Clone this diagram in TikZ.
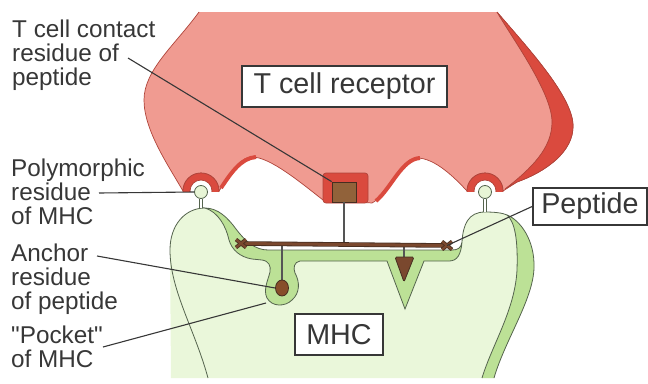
\documentclass[tikz,border=0pt]{standalone}
\usepackage{fontspec}
\setmainfont{Liberation Sans}
\usetikzlibrary{shapes.geometric}
\definecolor{tcrpink}{RGB}{240,155,145}
\definecolor{tcrred}{RGB}{218,74,62}
\definecolor{tcredge}{RGB}{175,68,58}
\definecolor{mhclight}{RGB}{234,247,218}
\definecolor{mhcgreen}{RGB}{188,225,150}
\definecolor{mhcedge}{RGB}{85,100,78}
\definecolor{pepbrown}{RGB}{122,72,46}
\definecolor{pepdark}{RGB}{70,45,32}
\definecolor{resbrown}{RGB}{145,98,58}
\definecolor{inkgray}{RGB}{55,55,55}
\definecolor{ballgreen}{RGB}{232,245,214}
\tikzset{
    % Boxed names on the molecules
    label box/.style={
        rectangle, draw=inkgray, line width=1.8pt, fill=white,
        inner sep=0pt, text=inkgray,
        font=\fontsize{28.7}{30}\selectfont
    },
    % Labels down the left margin (placed at the baseline of their last line)
    side label/.style={
        anchor=base west, align=left, inner sep=0pt, text=inkgray,
        font=\fontsize{24.3}{24}\selectfont
    },
    leader/.style={draw=inkgray, line width=1.1pt},
    % Residues
    ball/.style={
        circle, draw=mhcedge, line width=0.8pt, fill=ballgreen,
        minimum size=13pt, inner sep=0pt
    },
    residue box/.style={
        rectangle, draw=pepdark, line width=0.8pt, fill=resbrown,
        minimum width=24pt, minimum height=20pt, inner sep=0pt
    },
    stem/.style={draw=mhcedge, line width=0.6pt, double=white, double distance=2pt},
    stick/.style={draw=inkgray!85, line width=2.6pt},
    outline/.style={draw=mhcedge, line width=0.8pt}
}

\begin{document}
\begin{tikzpicture}[x=1pt, y=-1pt]
    \useasboundingbox (0,0) rectangle (648,383);

    % T cell receptor
    \path[fill=tcrpink, draw=tcredge, line width=0.7pt]
        (497,12) .. controls (525,45) and (572,95) .. (573,125)
        .. controls (574,152) and (545,172) .. (517,182) -- (503,191)
        .. controls (503,181) and (495,173) .. (485,173)
        .. controls (475,173) and (467,181) .. (467,191)
        .. controls (455,178) and (435,158) .. (417,158)
        .. controls (400,158) and (388,195) .. (372,203) -- (323,200)
        .. controls (300,182) and (270,157) .. (252,157)
        .. controls (238,157) and (228,178) .. (219,191)
        .. controls (219,181) and (211,173) .. (201,173)
        .. controls (191,173) and (183,181) .. (183,191)
        .. controls (168,165) and (144,130) .. (144,100)
        .. controls (144,70) and (175,45) .. (199,12);
    % side face of the receptor
    \path[fill=tcrred, draw=tcredge, line width=0.7pt]
        (497,12) .. controls (525,45) and (572,95) .. (573,125)
        .. controls (574,152) and (545,172) .. (517,182) -- (505,189)
        .. controls (532,168) and (552,148) .. (552,122)
        .. controls (552,92) and (510,35) .. (497,12) -- cycle;
    \draw[tcrred, line width=4pt] (221,188) .. controls (231,173) and (241,158) .. (256,157);
    \draw[tcrred, line width=4pt] (376,201) .. controls (392,187) and (402,159) .. (420,158);
    \begin{scope}
        \clip (150,150) rectangle (520,191);
        \foreach \cx in {201,485}
            \path[fill=tcrred, draw=tcredge, line width=0.7pt, even odd rule]
                (\cx,191) circle[radius=18] (\cx,191) circle[radius=11];
    \end{scope}

    % MHC
    \fill[mhclight] (171,378) -- (170,250)
        .. controls (170,225) and (185,208) .. (205,208)
        .. controls (218,208) and (228,218) .. (236,229)
        .. controls (245,241) and (255,250) .. (268,250) -- (452,250)
        .. controls (458,250) and (461,248) .. (462,242)
        .. controls (463,225) and (468,212) .. (485,212)
        .. controls (495,212) and (503,213) .. (507,215)
        .. controls (520,220) and (535,240) .. (534,268)
        .. controls (533,300) and (505,340) .. (494,378) -- cycle;
    % side face of the MHC
    \fill[mhcgreen] (507,215) .. controls (520,220) and (535,240) .. (534,268)
        .. controls (533,300) and (505,340) .. (494,378) -- (482,378)
        .. controls (492,345) and (515,310) .. (517,270)
        .. controls (518,240) and (515,222) .. (507,215) -- cycle;
    % peptide groove with its pocket
    \path[fill=mhcgreen, outline] (205,208)
        .. controls (218,208) and (228,218) .. (236,229)
        .. controls (245,241) and (255,250) .. (268,250) -- (452,250)
        .. controls (458,250) and (461,248) .. (462,242)
        .. controls (461,255) and (457,261) .. (449,261) -- (424,261)
        -- (405,309) -- (387,261) -- (300,261)
        .. controls (294,262) and (293,268) .. (295,273)
        .. controls (300,282) and (300,293) .. (292,300)
        .. controls (285,307) and (272,307) .. (267,298)
        .. controls (263,290) and (268,280) .. (270,272)
        .. controls (271,266) and (269,261) .. (262,260) -- (252,259)
        .. controls (240,257) and (232,250) .. (229,240)
        .. controls (226,226) and (218,212) .. (205,208) -- cycle;
    \draw[outline] (208,378) .. controls (195,330) and (170,290) .. (170,250)
        .. controls (170,225) and (185,208) .. (205,208);
    \draw[outline] (462,242) .. controls (463,225) and (468,212) .. (485,212)
        .. controls (495,212) and (503,213) .. (507,215)
        .. controls (520,220) and (535,240) .. (534,268)
        .. controls (533,300) and (505,340) .. (494,378);
    \draw[outline] (507,215) .. controls (515,222) and (518,240) .. (517,270)
        .. controls (515,310) and (492,345) .. (482,378);
    \coordinate (pocket) at (266,303);

    % Polymorphic residues of the MHC
    \node[ball] (poly-l) at (201,192) {};
    \node[ball] (poly-r) at (485,192) {};
    \draw[stem] (poly-l.south) -- (201,208);
    \draw[stem] (poly-r.south) -- (485,212);

    % T cell contact residue
    \fill[tcrred, draw=tcredge, line width=0.7pt, rounded corners=3pt] (323,173) rectangle (368,203);
    \node[residue box] (tcc) at (344,192) {};

    % Peptide and its side chains
    \coordinate (pep-l) at (241,243.5);
    \coordinate (pep-r) at (447,245.5);
    \coordinate (pep-tcc) at (344,244.5);
    \draw[stick] (tcc.south) -- (pep-tcc);
    \draw[stick] (282,244) -- (282,281);
    \draw[stick] (404,245) -- (404,259);
    \node[ellipse, draw=pepdark, line width=0.8pt, fill=pepbrown!90!orange,
          minimum width=13pt, minimum height=16pt, inner sep=0pt] (anchor-res) at (282,288) {};
    \path[fill=pepbrown, draw=pepdark, line width=0.8pt, rounded corners=1.5pt]
        (395,257) -- (414,257) -- (404,282) -- cycle;
    \draw[draw=pepdark, double=pepbrown, double distance=3pt, line width=0.8pt] (pep-l) -- (pep-r);
    \foreach \p in {pep-l, pep-r} {
        \draw[pepdark, line width=3.8pt] ([shift={(-5,-4)}]\p) -- ([shift={(5,4)}]\p)
            ([shift={(-5,4)}]\p) -- ([shift={(5,-4)}]\p);
        \draw[pepbrown, line width=2.2pt] ([shift={(-5,-4)}]\p) -- ([shift={(5,4)}]\p)
            ([shift={(-5,4)}]\p) -- ([shift={(5,-4)}]\p);
    }

    % Names on the molecules
    \node[label box, minimum width=205pt, minimum height=41pt] (tcr-box) at (344.5,86.5) {T cell receptor};
    \node[label box, minimum width=114pt, minimum height=37pt] (pep-box) at (590,206.5) {Peptide};
    \node[label box, minimum width=88pt, minimum height=41pt] (mhc-box) at (339,334.5) {MHC};

    % Labels on the left
    \node[side label] (tcc-lbl) at (12,85.5) {T cell contact\\residue of\\peptide};
    \node[side label] (poly-lbl) at (11,224.5) {Polymorphic\\residue\\of MHC};
    \node[side label] (anchor-lbl) at (11,309.5) {Anchor\\residue\\of peptide};
    \node[side label] (pocket-lbl) at (11,367) {\textquotedbl Pocket\textquotedbl\\of MHC};

    \coordinate (tcc-from) at (128,58);
    \coordinate (poly-from) at (99,193);
    \coordinate (anchor-from) at (97,256);
    \coordinate (pocket-from) at (103,347);
    \draw[leader] (tcc-from) -- (tcc.north west);
    \draw[leader] (poly-from) -- (poly-l.west);
    \draw[leader] (anchor-from) -- (anchor-res.west);
    \draw[leader] (pocket-from) -- (pocket);
    \draw[leader] (pep-r) -- (pep-box.west);

\end{tikzpicture}
\end{document}
